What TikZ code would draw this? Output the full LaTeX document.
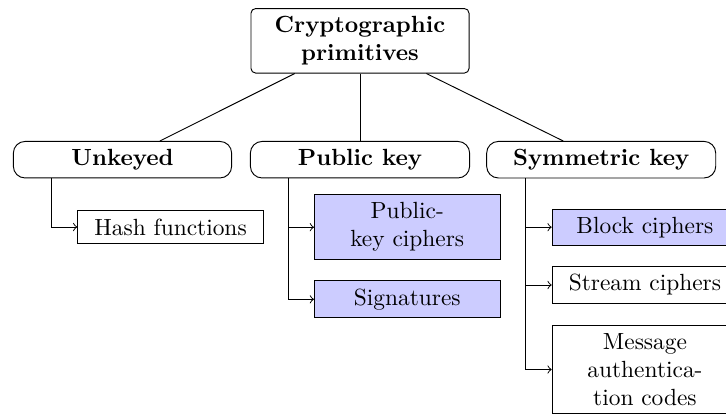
\documentclass[tikz,border=0pt]{standalone}
\usetikzlibrary{calc}
\definecolor{leaffill}{RGB}{204,204,255}
\begin{document}
\begin{tikzpicture}[x=0.4274pt,y=-0.4274pt,
  rootbox/.style={draw,rounded corners=2pt,align=center,font=\bfseries,minimum width=93.2pt},
  catbox/.style={draw,rounded corners=5pt,align=center,font=\bfseries},
  leafbox/.style={draw,align=center,minimum width=79.3pt,anchor=west},
  hl/.style={fill=leaffill},
  arr/.style={->}]
\useasboundingbox (0,0) rectangle (726,415);
\node[rootbox] (root) at (360,40.8) {Cryptographic\\primitives};
\node[catbox,minimum width=93.3pt] (unk) at (122.5,159.7) {Unkeyed};
\node[catbox,minimum width=93.7pt] (pub) at (360,159.7) {Public key};
\node[catbox,minimum width=97.9pt] (sym) at (601.2,159.7) {Symmetric key};
\draw (root) -- (unk);
\draw (root) -- (pub);
\draw (root) -- (sym);
\node[leafbox] (hash) at (77.3,227) {Hash functions};
\node[leafbox,hl] (pkc) at (314,227.2) {Public-\\key ciphers};
\node[leafbox,hl] (sig) at (314,299.3) {Signatures};
\node[leafbox,hl] (block) at (551.7,227.2) {Block ciphers};
\node[leafbox] (stream) at (551.7,285) {Stream ciphers};
\node[leafbox] (mac) at (551.7,369.5) {Message\\authentica-\\tion codes};
\draw[arr] ($(unk.south west)+(38.5,0)$) |- (hash.west);
\draw[arr] ($(pub.south west)+(38.9,0)$) |- (pkc.west);
\draw[arr] ($(pub.south west)+(38.9,0)$) |- (sig.west);
\draw[arr] ($(sym.south west)+(39.3,0)$) |- (block.west);
\draw[arr] ($(sym.south west)+(39.3,0)$) |- (stream.west);
\draw[arr] ($(sym.south west)+(39.3,0)$) |- (mac.west);
\end{tikzpicture}
\end{document}
